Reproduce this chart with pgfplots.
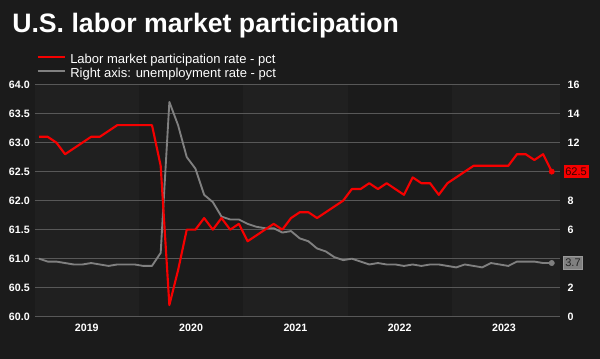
\documentclass[border=0pt]{standalone}
\usepackage{pgfplots}
\usepackage{pgfplotstable}
\pgfplotsset{compat=1.18}
\usepackage{fontspec}
\setmainfont{Liberation Sans}
\definecolor{bgc}{RGB}{27,27,27}
\definecolor{bandc}{RGB}{32,32,32}
\definecolor{gridc}{RGB}{88,88,88}
\definecolor{redc}{RGB}{245,0,0}
\definecolor{grayc}{RGB}{128,128,128}
\definecolor{redtxt}{RGB}{60,0,0}
\definecolor{graytxt}{RGB}{35,35,35}

% x = month index + 0.5 (0 = 1 Jan 2019); lf = participation rate; ur = unemployment rate
\pgfplotstableread{
x lf ur
0.5 63.1 4.0
1.5 63.1 3.8
2.5 63.0 3.8
3.5 62.8 3.7
4.5 62.9 3.6
5.5 63.0 3.6
6.5 63.1 3.7
7.5 63.1 3.6
8.5 63.2 3.5
9.5 63.3 3.6
10.5 63.3 3.6
11.5 63.3 3.6
12.5 63.3 3.5
13.5 63.3 3.5
14.5 62.6 4.4
15.5 60.2 14.8
16.5 60.8 13.2
17.5 61.5 11.0
18.5 61.5 10.2
19.5 61.7 8.4
20.5 61.5 7.9
21.5 61.7 6.9
22.5 61.5 6.7
23.5 61.6 6.7
24.5 61.3 6.4
25.5 61.4 6.2
26.5 61.5 6.1
27.5 61.6 6.1
28.5 61.5 5.8
29.5 61.7 5.9
30.5 61.8 5.4
31.5 61.8 5.2
32.5 61.7 4.7
33.5 61.8 4.5
34.5 61.9 4.1
35.5 62.0 3.9
36.5 62.2 4.0
37.5 62.2 3.8
38.5 62.3 3.6
39.5 62.2 3.7
40.5 62.3 3.6
41.5 62.2 3.6
42.5 62.1 3.5
43.5 62.4 3.6
44.5 62.3 3.5
45.5 62.3 3.6
46.5 62.1 3.6
47.5 62.3 3.5
48.5 62.4 3.4
49.5 62.5 3.6
50.5 62.6 3.5
51.5 62.6 3.4
52.5 62.6 3.7
53.5 62.6 3.6
54.5 62.6 3.5
55.5 62.8 3.8
56.5 62.8 3.8
57.5 62.7 3.8
58.5 62.8 3.7
59.5 62.5 3.7
}\datatable

\pgfplotsset{
  common/.style={
    at={(26pt,31.7pt)}, anchor=south west,
    scale only axis, width=394pt, height=174.15pt,
    xmin=0, xmax=60.45,
    axis line style={draw=none},
    tick style={draw=none},
    major tick length=0pt,
    clip=false,
    ticklabel style={font=\fontsize{8}{9}\selectfont\bfseries, text=white, inner sep=0pt},
    /pgf/number format/assume math mode=true,
  }
}

\begin{document}
\begin{tikzpicture}
\fill[bgc] (0,0) rectangle (450pt,269.25pt);
\useasboundingbox (0,0) rectangle (450pt,269.25pt);

% title
\node[anchor=base west, inner sep=0pt, text=white, font=\fontsize{20}{24}\selectfont\bfseries] at (9pt,244.5pt) {U.S. labor market participation};

% legend
\draw[redc, line width=1.5pt] (28.3pt,226.3pt) -- (48.75pt,226.3pt);
\draw[grayc, line width=1.5pt] (28.3pt,215.8pt) -- (48.75pt,215.8pt);
\node[anchor=base west, inner sep=0pt, text=white, font=\fontsize{9.75}{11}\selectfont] at (52.5pt,221.8pt) {Labor market participation rate - pct};
\node[anchor=base west, inner sep=0pt, text=white, font=\fontsize{9.75}{11}\selectfont] at (52.5pt,211.3pt) {Right axis: unemployment rate - pct};

% background year bands
\begin{axis}[common, hide axis, ymin=60, ymax=64]
  \fill[bandc] (axis cs:0,60) rectangle (axis cs:12,64);
  \fill[bandc] (axis cs:24,60) rectangle (axis cs:36,64);
  \fill[bandc] (axis cs:48,60) rectangle (axis cs:60.45,64);
\end{axis}

% right axis: unemployment rate (labels 4 and 10 are covered by the end labels)
\begin{axis}[common,
  ymin=0, ymax=16, ytick={0,2,4,6,8,10,12,14,16},
  yticklabels={0,2,,6,8,,12,14,16},
  yticklabel pos=right,
  yticklabel style={anchor=west, xshift=5.5pt},
  ymajorgrids, major grid style={gridc, line width=0.75pt},
  xtick={6,18,30,42,54}, xticklabels={2019,2020,2021,2022,2023},
  xticklabel style={anchor=north, yshift=-5pt},
]
  \addplot[grayc, line width=1.4pt, line join=round] table[x=x, y=ur] {\datatable};
  \addplot[grayc, only marks, mark=*, mark size=2pt] coordinates {(59.5,3.7)};
  \node[anchor=west, fill=grayc, draw=grayc!80!white, line width=0.4pt, text=graytxt, inner xsep=1.3pt, inner ysep=0pt, minimum height=9.75pt, font=\fontsize{8.3}{9}\selectfont] at (axis cs:60.45,3.7) [xshift=2.5pt] {3.7};
\end{axis}

% left axis: participation rate
\begin{axis}[common,
  ymin=60, ymax=64, ytick={60,60.5,61,61.5,62,62.5,63,63.5,64},
  yticklabel pos=left,
  yticklabel style={anchor=east, xshift=-3.5pt, /pgf/number format/.cd, fixed, fixed zerofill, precision=1},
  xtick=\empty,
]
  \addplot[redc, line width=1.6pt, line join=round] table[x=x, y=lf] {\datatable};
  \addplot[redc, only marks, mark=*, mark size=2pt] coordinates {(59.5,62.5)};
  \node[anchor=west, fill=redc, text=redtxt, inner xsep=1.3pt, inner ysep=0pt, minimum height=9.75pt, font=\fontsize{8.3}{9}\selectfont] at (axis cs:60.45,62.5) [xshift=2.5pt] {62.5};
\end{axis}
\end{tikzpicture}
\end{document}
